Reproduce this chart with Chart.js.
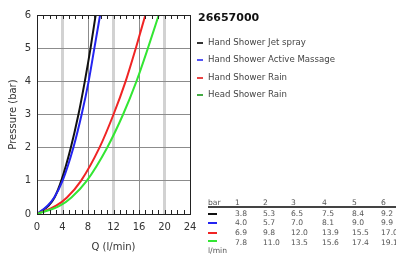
<!DOCTYPE html>
<html lang="en">
<head>
  <meta charset="UTF-8">
  <title>26657000 flow chart</title>
  <script src="https://cdn.jsdelivr.net/npm/chart.js@4.4.2/dist/chart.umd.min.js"></script>
  <style>
    body {
      margin: 0;
      background: #fff;
      font-family: 'DejaVu Sans', sans-serif;
    }
    #wrap {
      position: relative;
      width: 396px;
      height: 254px;
      overflow: hidden;
    }
    #myChart { position: absolute; left: 0; top: 0; }
    .titulo {
      position: absolute;
      left: 198px;
      top: 11px;
      font-size: 11px;
      font-weight: bold;
      color: #111;
    }
    .leyenda {
      position: absolute;
      left: 197px;
      font-size: 8.6px;
      color: #444;
      white-space: nowrap;
      line-height: 10px;
    }
    .leyenda i {
      display: inline-block;
      width: 6px;
      height: 2px;
      margin-right: 5px;
      vertical-align: middle;
    }
    .tabla {
      position: absolute;
      font-size: 7.6px;
      color: #555;
      line-height: 9px;
      white-space: nowrap;
    }
    .raya {
      position: absolute;
      width: 9px;
      height: 2px;
    }
  </style>
</head>
<body>
<div id="wrap">
  <canvas id="myChart" width="396" height="254"></canvas>
  <div class="titulo">26657000</div>
  <div id="leyendas"></div>
  <div id="tabla"></div>
</div>

<script>
  // values (l/min at each pressure)
  const pressures = [1, 2, 3, 4, 5, 6];
  const jetSpray = [3.8, 5.3, 6.5, 7.5, 8.4, 9.2];
  const activeMassage = [4.0, 5.7, 7.0, 8.1, 9.0, 9.9];
  const handRain = [6.9, 9.8, 12.0, 13.9, 15.5, 17.0];
  const headRain = [7.8, 11.0, 13.5, 15.6, 17.4, 19.1];

  // low pressure part of the curves
  const lowP = [0, 0.25, 0.5];
  const jetSprayLow = [0, 1.8, 2.75];
  const activeMassageLow = [0, 1.65, 2.7];
  const handRainLow = [0, 3.0, 4.7];
  const headRainLow = [0, 3.6, 5.4];

  const xTicks = [0, 4, 8, 12, 16, 20, 24];

  const series = [
    { label: 'Hand Shower Jet spray', low: jetSprayLow, q: jetSpray, color: '#111111', key: '#333333' },
    { label: 'Hand Shower Active Massage', low: activeMassageLow, q: activeMassage, color: '#2424f0', key: '#5555f5' },
    { label: 'Hand Shower Rain', low: handRainLow, q: handRain, color: '#f02424', key: '#e84444' },
    { label: 'Head Shower Rain', low: headRainLow, q: headRain, color: '#33e633', key: '#44aa44' }
  ];

  function puntos(s) {
    const pts = s.low.map((q, i) => ({ x: q, y: lowP[i] }));
    s.q.forEach((q, i) => pts.push({ x: q, y: pressures[i] }));
    return pts;
  }

  // leyenda
  const leyendaY = [37, 54, 72, 89];
  const leyendas = document.getElementById('leyendas');
  series.forEach((s, i) => {
    const d = document.createElement('div');
    d.className = 'leyenda';
    d.style.top = leyendaY[i] + 'px';
    d.innerHTML = '<i style="background:' + s.key + '"></i>' + s.label;
    leyendas.appendChild(d);
  });

  // tabla
  const colX = [235, 263, 291, 322, 352, 381];
  const filaY = [209, 218, 228, 238];
  const tabla = document.getElementById('tabla');
  let html = '<div class="tabla" style="left:208px;top:198px;text-decoration:underline">bar</div>';
  pressures.forEach((p, j) => {
    html += '<div class="tabla" style="left:' + colX[j] + 'px;top:198px">' + p + '</div>';
  });
  html += '<div style="position:absolute;left:208px;top:206px;width:190px;height:2px;background:#444"></div>';
  series.forEach((s, i) => {
    html += '<div class="raya" style="left:208px;top:' + (filaY[i] + 4 - (i === 3 ? 2 : 0)) + 'px;background:' + s.color + '"></div>';
    s.q.forEach((q, j) => {
      html += '<div class="tabla" style="left:' + colX[j] + 'px;top:' + filaY[i] + 'px">' + q.toFixed(1) + '</div>';
    });
  });
  html += '<div class="tabla" style="left:208px;top:246px">l/min</div>';
  tabla.innerHTML = html;

  // marco + marcas menores
  const marco = {
    id: 'marco',
    afterDraw(chart) {
      const { ctx, chartArea: a, scales } = chart;
      ctx.save();
      ctx.strokeStyle = '#222';
      ctx.lineWidth = 1;
      ctx.beginPath();
      for (let v = 1; v < 24; v++) {
        const x = Math.round(scales.x.getPixelForValue(v)) + 0.5;
        ctx.moveTo(x, a.bottom); ctx.lineTo(x, a.bottom - 4);
        ctx.moveTo(x, a.top); ctx.lineTo(x, a.top + 4);
      }
      ctx.stroke();
      ctx.strokeRect(Math.round(a.left) + 0.5, Math.round(a.top) + 0.5,
        Math.round(a.right - a.left), Math.round(a.bottom - a.top));
      ctx.restore();
    }
  };

  const ctx = document.getElementById('myChart').getContext('2d');
  new Chart(ctx, {
    type: 'line',
    data: {
      datasets: series.map((s, i) => ({
        label: s.label,
        data: puntos(s),
        borderColor: s.color,
        borderWidth: 2,
        pointRadius: 0,
        fill: false,
        order: series.length - i,
        cubicInterpolationMode: 'monotone'
      }))
    },
    options: {
      responsive: false,
      animation: false,
      layout: { padding: { left: 0, top: 15, right: 206, bottom: 0 } },
      plugins: { legend: { display: false }, tooltip: { enabled: false } },
      scales: {
        x: {
          type: 'linear',
          min: 0,
          max: 24,
          afterBuildTicks: s => { s.ticks = xTicks.map(v => ({ value: v })); },
          afterFit: s => { s.height = 40; },
          ticks: { color: '#333', font: { family: 'DejaVu Sans', size: 10 }, padding: 7, maxRotation: 0 },
          grid: {
            drawTicks: false,
            color: c => (c.tick && c.tick.value % 8 === 4 ? '#d2d2d2' : '#8c8c8c'),
            lineWidth: c => (c.tick && c.tick.value % 8 === 4 ? 3 : 1)
          },
          border: { display: false },
          title: { display: true, text: 'Q (l/min)', color: '#333', font: { family: 'DejaVu Sans', size: 10 }, padding: { top: 0, bottom: 1 } }
        },
        y: {
          min: 0,
          max: 6,
          afterFit: s => { s.width = 37; },
          ticks: { stepSize: 1, color: '#333', font: { family: 'DejaVu Sans', size: 10 }, padding: 6 },
          grid: { drawTicks: false, color: '#8c8c8c', lineWidth: 1 },
          border: { display: false },
          title: { display: true, text: 'Pressure (bar)', color: '#333', font: { family: 'DejaVu Sans', size: 10 }, padding: { top: 7, bottom: 0 } }
        }
      }
    },
    plugins: [marco]
  });
</script>
</body>
</html>
